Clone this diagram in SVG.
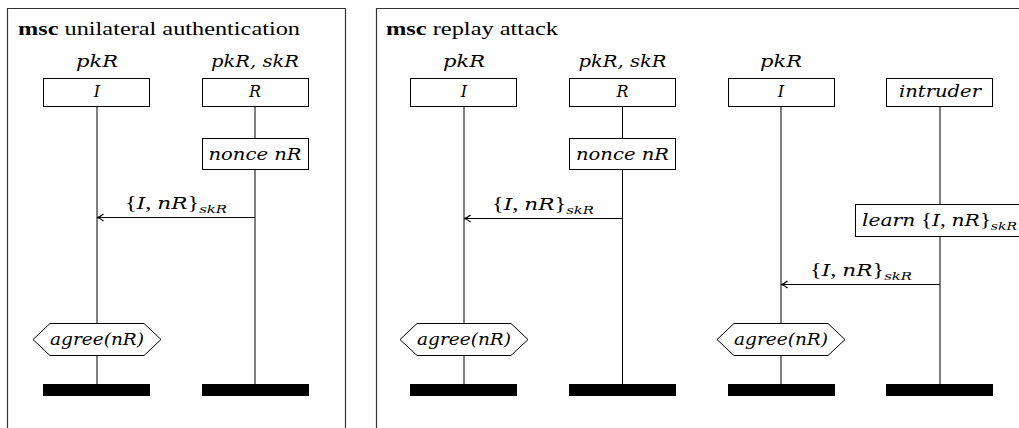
<svg xmlns="http://www.w3.org/2000/svg" width="1019" height="428" viewBox="0 0 1019 428">
<style>
.frame{fill:none;stroke:#333;stroke-width:1.2}
.box{fill:#fff;stroke:#000;stroke-width:1}
.life{stroke:#000;stroke-width:1}
.bar{fill:#000}
.msg{stroke:#000;stroke-width:1;fill:none;marker-end:url(#ah)}
text{font-family:"Liberation Serif","Times New Roman",serif;font-size:18px;fill:#000}
.m{font-family:"DejaVu Serif","Liberation Serif",serif;font-style:italic;font-size:16px}
.c{text-anchor:middle}
.sub{font-family:"DejaVu Serif","Liberation Serif",serif;font-size:11px;font-style:italic}
.b{font-weight:bold}
</style>
<defs>
<marker id="ah" markerWidth="10" markerHeight="10" refX="9" refY="5" orient="auto" markerUnits="userSpaceOnUse">
<path d="M2.5,1.5 Q6,4.5 9,5 Q6,5.5 2.5,8.5" fill="none" stroke="#000" stroke-width="1.2"/>
</marker>
</defs>
<rect width="1019" height="428" fill="#fff"/>

<g id="frame-unilateral">
<path class="frame" d="M7.5,440 V8.5 H345.5 V440"/>
<text x="18" y="35" textLength="282" lengthAdjust="spacingAndGlyphs"><tspan class="b">msc</tspan> unilateral authentication</text>
</g>
<g id="frame-replay">
<path class="frame" d="M376.5,440 V8.5 H1030"/>
<text x="386" y="35" textLength="172" lengthAdjust="spacingAndGlyphs"><tspan class="b">msc</tspan> replay attack</text>
</g>

<g id="lifelines">
<line class="life" x1="97" y1="107" x2="97" y2="384"/>
<line class="life" x1="255" y1="107" x2="255" y2="384"/>
<line class="life" x1="464" y1="107" x2="464" y2="384"/>
<line class="life" x1="622.5" y1="107" x2="622.5" y2="384"/>
<line class="life" x1="781" y1="107" x2="781" y2="384"/>
<line class="life" x1="940" y1="107" x2="940" y2="384"/>
</g>

<g id="connectors">
<line class="msg" x1="255" y1="217.5" x2="97" y2="217.5"/>
<text class="c" x="176" y="209" textLength="102" lengthAdjust="spacingAndGlyphs">{<tspan class="m">I</tspan>, <tspan class="m">nR</tspan>}<tspan class="sub" dy="4">skR</tspan></text>
<line class="msg" x1="622.5" y1="218.5" x2="464" y2="218.5"/>
<text class="c" x="543" y="210" textLength="102" lengthAdjust="spacingAndGlyphs">{<tspan class="m">I</tspan>, <tspan class="m">nR</tspan>}<tspan class="sub" dy="4">skR</tspan></text>
<line class="msg" x1="940" y1="284.5" x2="781" y2="284.5"/>
<text class="c" x="861" y="276" textLength="102" lengthAdjust="spacingAndGlyphs">{<tspan class="m">I</tspan>, <tspan class="m">nR</tspan>}<tspan class="sub" dy="4">skR</tspan></text>
</g>

<g id="I-left">
<text class="m c" x="97" y="67" textLength="42" lengthAdjust="spacingAndGlyphs">pkR</text>
<rect class="box" x="43.5" y="78.5" width="106" height="28"/>
<text class="m c" x="97" y="97">I</text>
</g>
<g id="R-left">
<text class="m c" x="255" y="67" textLength="88" lengthAdjust="spacingAndGlyphs">pkR, skR</text>
<rect class="box" x="202.5" y="78.5" width="106" height="28"/>
<text class="m c" x="255" y="97">R</text>
</g>
<g id="nonce-left">
<rect class="box" x="202.5" y="138.5" width="106" height="31"/>
<text class="m c" x="255" y="160" textLength="93" lengthAdjust="spacingAndGlyphs">nonce nR</text>
</g>
<g id="agree-left">
<polygon class="box" points="33,339.5 50,323.5 144,323.5 161,339.5 144,355.5 50,355.5"/>
<text class="m c" x="97" y="345" textLength="94" lengthAdjust="spacingAndGlyphs">agree(nR)</text>
</g>
<g id="end-left">
<rect class="bar" x="43" y="384" width="107" height="12"/>
<rect class="bar" x="202" y="384" width="107" height="12"/>
</g>

<g id="I-right">
<text class="m c" x="464" y="67" textLength="42" lengthAdjust="spacingAndGlyphs">pkR</text>
<rect class="box" x="410.5" y="78.5" width="106" height="28"/>
<text class="m c" x="464" y="97">I</text>
</g>
<g id="R-right">
<text class="m c" x="622.5" y="67" textLength="88" lengthAdjust="spacingAndGlyphs">pkR, skR</text>
<rect class="box" x="569.5" y="78.5" width="106" height="28"/>
<text class="m c" x="622.5" y="97">R</text>
</g>
<g id="I2-right">
<text class="m c" x="781" y="67" textLength="42" lengthAdjust="spacingAndGlyphs">pkR</text>
<rect class="box" x="728.5" y="78.5" width="106" height="28"/>
<text class="m c" x="781" y="97">I</text>
</g>
<g id="intruder">
<rect class="box" x="886.5" y="78.5" width="106" height="28"/>
<text class="m c" x="940" y="97" textLength="82" lengthAdjust="spacingAndGlyphs">intruder</text>
</g>
<g id="nonce-right">
<rect class="box" x="569.5" y="138.5" width="106" height="31"/>
<text class="m c" x="622.5" y="160" textLength="93" lengthAdjust="spacingAndGlyphs">nonce nR</text>
</g>
<g id="learn">
<rect class="box" x="855.5" y="204.5" width="180" height="32"/>
<text x="862" y="226" textLength="155" lengthAdjust="spacingAndGlyphs"><tspan class="m">learn</tspan> {<tspan class="m">I</tspan>, <tspan class="m">nR</tspan>}<tspan class="sub" dy="4">skR</tspan></text>
</g>
<g id="agree-right-1">
<polygon class="box" points="400,339.5 417,323.5 511,323.5 528,339.5 511,355.5 417,355.5"/>
<text class="m c" x="464" y="345" textLength="94" lengthAdjust="spacingAndGlyphs">agree(nR)</text>
</g>
<g id="agree-right-2">
<polygon class="box" points="717,339.5 734,323.5 828,323.5 845,339.5 828,355.5 734,355.5"/>
<text class="m c" x="781" y="345" textLength="94" lengthAdjust="spacingAndGlyphs">agree(nR)</text>
</g>
<g id="end-right">
<rect class="bar" x="410" y="384" width="107" height="12"/>
<rect class="bar" x="569" y="384" width="107" height="12"/>
<rect class="bar" x="728" y="384" width="107" height="12"/>
<rect class="bar" x="886" y="384" width="107" height="12"/>
</g>
</svg>
